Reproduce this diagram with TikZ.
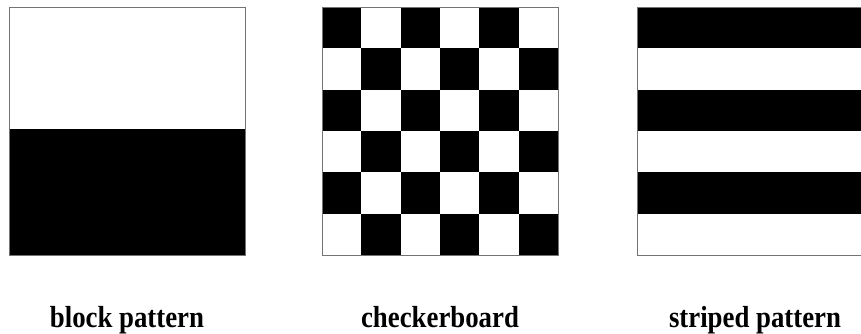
\documentclass[tikz,border=0pt]{standalone}
\usepackage{fontspec}
\setmainfont{Liberation Serif}
\newfontfamily\capfont[FakeStretch=0.88]{Liberation Serif}
\usetikzlibrary{positioning}

\begin{document}
\begin{tikzpicture}[
  x=0.03cm, y=-0.03cm,
  frame/.style={draw=black!55, line width=0.6pt},
  cell/.style={fill=black},
  caption/.style={anchor=base, font=\capfont\fontsize{26}{30}\selectfont\bfseries}
]
\useasboundingbox (0,0) rectangle (861,333);
\clip (0,0) rectangle (861,333);

% Block pattern
\fill[cell] (9,129) rectangle (245,255);
\draw[frame] (9,7) rectangle (245,255);

% Checkerboard, 6 x 6
\foreach \i in {0,...,5}
  \foreach \j in {0,...,5}{
    \pgfmathtruncatemacro{\odd}{mod(\i+\j,2)}
    \ifnum\odd=0
      \fill[cell] ({322+\i*236/6},{7+\j*248/6}) rectangle ++(236/6,248/6);
    \fi
  }
\draw[frame] (322,7) rectangle (558,255);

% Striped pattern
\foreach \j in {0,2,4}
  \fill[cell] (637,{7+\j*248/6}) rectangle ++(236,248/6);
\draw[frame] (637,7) rectangle (873,255);

% Captions
\node[caption] (lblock) at (127,327) {block pattern};
\node[caption] (lcheck) at (440,327) {checkerboard};
\node[caption] (lstripe) at (755,327) {striped pattern};

\end{tikzpicture}
\end{document}
